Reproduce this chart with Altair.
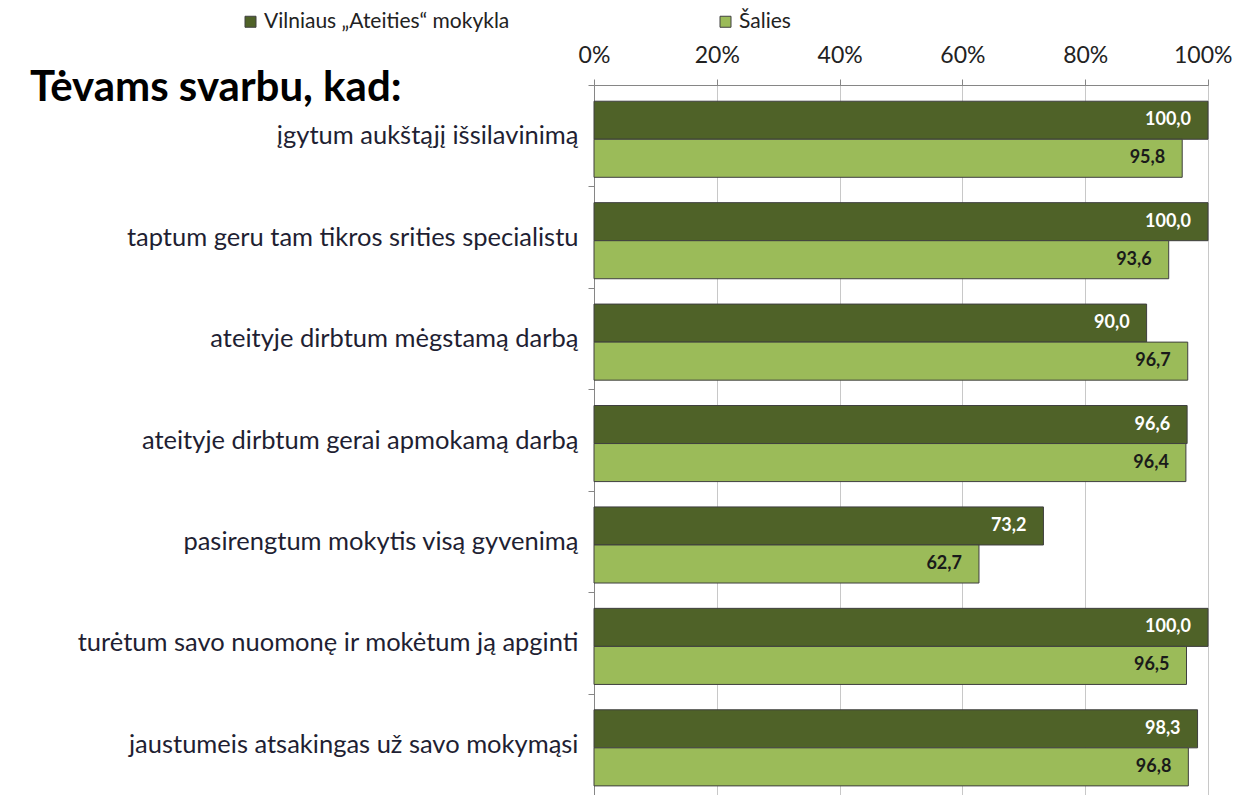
import altair as alt
import pandas as pd

categories = [
    "įgytum aukštąjį išsilavinimą",
    "taptum geru tam tikros srities specialistu",
    "ateityje dirbtum mėgstamą darbą",
    "ateityje dirbtum gerai apmokamą darbą",
    "pasirengtum mokytis visą gyvenimą",
    "turėtum savo nuomonę ir mokėtum ją apginti",
    "jaustumeis atsakingas už savo mokymąsi",
]
series = ["Vilniaus „Ateities“ mokykla", "Šalies"]
vilnius = [100.0, 100.0, 90.0, 96.6, 73.2, 100.0, 98.3]
salies = [95.8, 93.6, 96.7, 96.4, 62.7, 96.5, 96.8]
vilnius_labels = ["100,0", "100,0", "90,0", "96,6", "73,2", "100,0", "98,3"]
salies_labels = ["95,8", "93,6", "96,7", "96,4", "62,7", "96,5", "96,8"]
x_ticks = [0, 20, 40, 60, 80, 100]
title_text = "Tėvams svarbu, kad:"

rows = []
for c, v, l in zip(categories, vilnius, vilnius_labels):
    rows.append({"cat": c, "series": series[0], "value": v, "label": l})
for c, v, l in zip(categories, salies, salies_labels):
    rows.append({"cat": c, "series": series[1], "value": v, "label": l})
df = pd.DataFrame(rows)

FONT = "Lato"
DARK = "#4f6228"
LIGHT = "#9bbb59"

y_enc = alt.Y("cat:N", sort=categories,
              scale=alt.Scale(paddingInner=0, paddingOuter=0),
              axis=alt.Axis(title=None, tickBand="extent", tickSize=6, labelPadding=10,
                            labelFontSize=25.5, labelFont=FONT, labelColor="#1f1f33",
                            domainColor="#868686", tickColor="#868686", grid=False,
                            labelLimit=700))
yoff_enc = alt.YOffset("series:N", sort=series,
                       scale=alt.Scale(paddingInner=0, paddingOuter=0.333, align=0.64))
x_enc = alt.X("value:Q", scale=alt.Scale(domain=[0, 100], nice=False),
              axis=alt.Axis(orient="top", values=x_ticks, title=None,
                            labelExpr="datum.value + '%'", labelFontSize=23,
                            labelFont=FONT, labelColor="#222222", labelFlush=False,
                            labelAlign={"expr": "datum.value == 100 ? 'right' : 'center'"},
                            labelOffset={"expr": "datum.value == 100 ? 24 : 0"},
                            tickSize=6, labelPadding=12, tickColor="#868686",
                            domainColor="#868686", gridColor="#c8c8c8"))

bars = alt.Chart(df).mark_bar(stroke="#3f3f3f", strokeWidth=1).encode(
    y=y_enc, yOffset=yoff_enc, x=x_enc,
    color=alt.Color("series:N", sort=series,
                    scale=alt.Scale(domain=series, range=[DARK, LIGHT]),
                    legend=alt.Legend(title=None, orient="none", legendX=-354, legendY=-74,
                                      direction="horizontal", columns=2, columnPadding=205,
                                      labelFont=FONT, labelFontSize=21, labelColor="#222222",
                                      labelLimit=600,
                                      symbolType="square", symbolSize=121,
                                      symbolStrokeColor="#404040", symbolStrokeWidth=1,
                                      labelOffset=3)),
)

texts = alt.Chart(df).mark_text(align="right", baseline="middle", dx=-17,
                                font=FONT, fontSize=18, fontWeight="bold").encode(
    y=alt.Y("cat:N", sort=categories), yOffset=alt.YOffset("series:N", sort=series),
    x="value:Q", text="label:N",
    fill=alt.condition(alt.datum.series == series[0], alt.value("white"), alt.value("#1a1a1a")),
)

title_layer = alt.Chart(pd.DataFrame({"t": [title_text]})).mark_text(
    align="left", baseline="alphabetic", font=FONT, fontSize=42, fontWeight="bold",
    color="#000000").encode(text="t:N", x=alt.value(-564), y=alt.value(16))

chart = alt.layer(bars, texts, title_layer).properties(
    width=614, height=710,
    autosize=alt.AutoSizeParams(type="none"),
    padding={"left": 586, "top": 77, "right": 25, "bottom": 0},
).configure_view(stroke="#868686", strokeWidth=1)

chart.save("out.html", embed_options={"renderer": "svg", "actions": False})
